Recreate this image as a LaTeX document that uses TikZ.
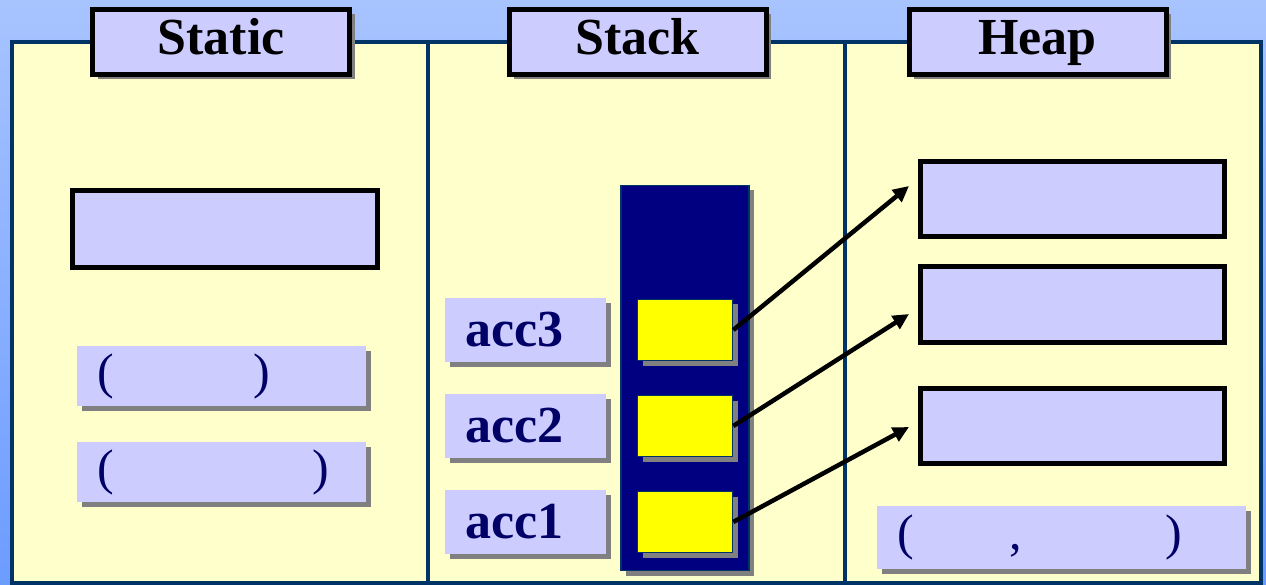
\documentclass[tikz,border=0pt]{standalone}
\usepackage{fontspec}
\setmainfont{Liberation Serif}
\usetikzlibrary{shadows,arrows.meta}
\definecolor{skytop}{RGB}{168,196,255}
\definecolor{skybot}{RGB}{108,156,255}
\definecolor{panelfill}{RGB}{255,255,204}
\definecolor{paneledge}{RGB}{0,51,102}
\definecolor{lilac}{RGB}{204,204,255}
\definecolor{navytext}{RGB}{0,0,102}
\definecolor{stackblue}{RGB}{0,0,128}
\definecolor{shadowgray}{RGB}{128,128,128}
\definecolor{cellyellow}{RGB}{255,255,0}
\begin{document}
\begin{tikzpicture}[x=1pt,y=-1pt,
  boxshadow/.style={drop shadow={shadow xshift=5pt,shadow yshift=-5pt,fill=shadowgray,opacity=1}},
  bigfont/.style={font=\fontsize{52}{60}\selectfont\bfseries},
  parenfont/.style={font=\fontsize{50}{60}\selectfont},
  panel/.style={draw=paneledge,line width=4pt,fill=panelfill},
  titlebox/.style={boxshadow,draw=black,line width=5pt,fill=lilac,
    minimum width=257pt,minimum height=65pt,inner sep=0pt,bigfont,
    text height=37pt,text depth=11pt},
  slot/.style={draw=black,line width=5pt,fill=lilac,inner sep=0pt,
    minimum width=304pt,minimum height=75pt},
  tag/.style={boxshadow,fill=lilac,inner ysep=0pt,align=left,
    bigfont,text=navytext},
  stackcol/.style={boxshadow,draw=paneledge,line width=1.5pt,fill=stackblue,
    minimum width=128pt,minimum height=385pt,inner sep=0pt},
  cell/.style={boxshadow,draw=paneledge,line width=1.5pt,fill=cellyellow,
    minimum width=95pt,minimum height=61pt,inner sep=0pt},
  ptr/.style={line width=4.5pt,-{Triangle[length=16pt,width=15pt]}}
]
\useasboundingbox (0,0) rectangle (1266,585);
\shade[top color=skytop,bottom color=skybot] (0,0) rectangle (1266,585);

% three memory regions
\path[panel] (12,42) rectangle (428,583);
\path[panel] (428,42) rectangle (845,583);
\path[panel] (845,42) rectangle (1261,583);

% region titles
\node[titlebox] (tStatic) at (221,42) {Static};
\node[titlebox] (tStack) at (637.5,42) {Stack};
\node[titlebox] (tHeap) at (1037.5,42) {Heap};

% static area
\node[slot,minimum width=305pt,minimum height=77pt] (sVar) at (225,229) {};
\node[tag,parenfont,inner xsep=20pt,text width=249pt,minimum height=60pt] (sTagA) at (221.5,376) {(\hspace{140pt})};
\node[tag,parenfont,inner xsep=20pt,text width=249pt,minimum height=60pt] (sTagB) at (221.5,472) {(\hspace{199pt})};

% stack area
\node[stackcol] (col) at (685,378) {};
\node[tag,inner xsep=20pt,text width=121pt,minimum height=64pt] (acc3) at (525.5,330) {acc3};
\node[tag,inner xsep=20pt,text width=121pt,minimum height=64pt] (acc2) at (525.5,426) {acc2};
\node[tag,inner xsep=20pt,text width=121pt,minimum height=64pt] (acc1) at (525.5,522) {acc1};
\node[cell] (c3) at (685,330) {};
\node[cell] (c2) at (685,426) {};
\node[cell] (c1) at (685,522) {};

% heap area
\node[slot] (hA) at (1072.5,199) {};
\node[slot] (hB) at (1072.5,304.5) {};
\node[slot] (hC) at (1072.5,425.5) {};
\node[tag,parenfont,inner xsep=20pt,text width=329pt,minimum height=63pt] (hTag) at (1061.5,537.5) {(\hspace{96pt},\hspace{143pt})};

% references from the stack into the heap
\coordinate (pA) at (909,186);
\coordinate (pB) at (909,314);
\coordinate (pC) at (909,427);
\draw[ptr] (c3.east) -- (pA);
\draw[ptr] (c2.east) -- (pB);
\draw[ptr] (c1.east) -- (pC);
\end{tikzpicture}
\end{document}
